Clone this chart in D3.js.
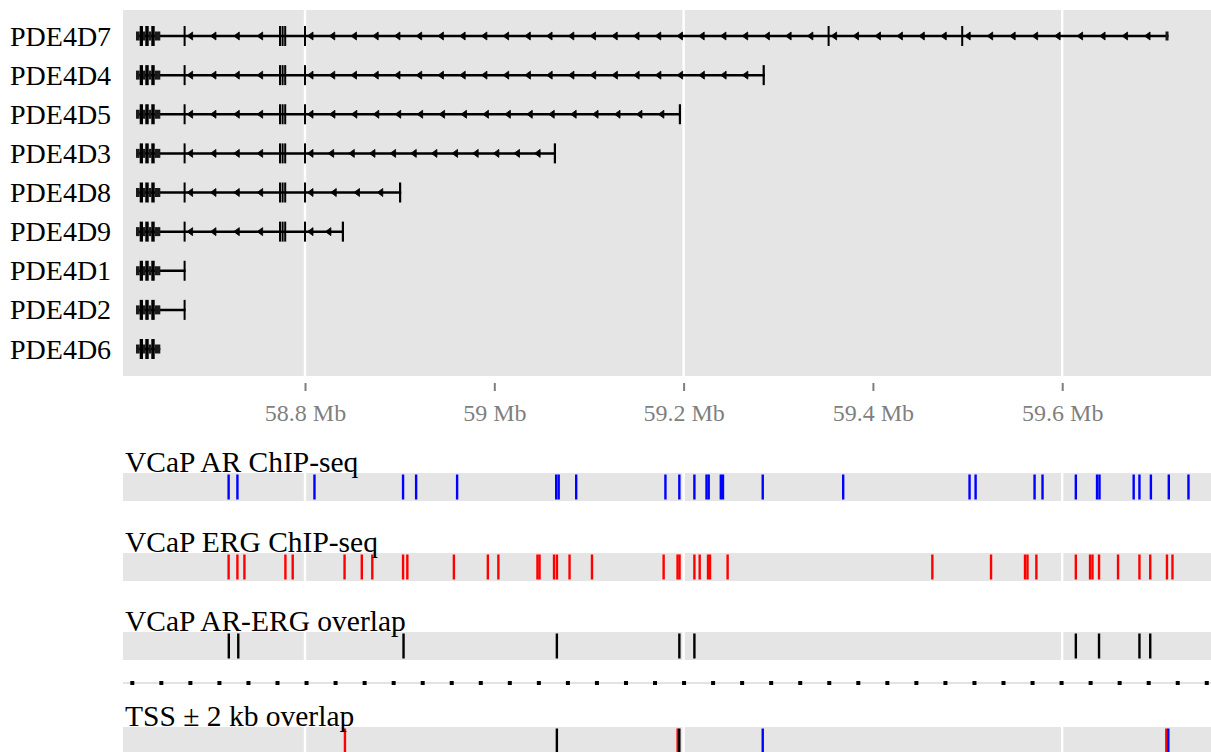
<!DOCTYPE html>
<html>
<head>
<meta charset="utf-8">
<script src="https://cdn.jsdelivr.net/npm/d3@7"></script>
<style>
  body { margin: 0; background: #ffffff; }
  svg { display: block; }
  text { font-family: "Liberation Serif", "DejaVu Serif", serif; }
</style>
</head>
<body>
<svg id="chart" width="1211" height="752"></svg>
<script>
// ---- PDE4D transcript models (positions in Mb, chr5, minus strand) ----
const transcripts = ["PDE4D7", "PDE4D4", "PDE4D5", "PDE4D3", "PDE4D8", "PDE4D9", "PDE4D1", "PDE4D2", "PDE4D6"];

// 3' exons shared by every isoform
const commonExons = [
  [58.62145, 58.62536, "utr"], [58.62536, 58.62884, "cds"], [58.62884, 58.63127, "utr"],
  [58.63127, 58.63487, "cds"], [58.63487, 58.63761, "utr"], [58.63761, 58.64120, "cds"],
  [58.64120, 58.64712, "utr"]
];
const exonUCR = [[58.67174, 58.67385, "cds"]];
const exonBlock = [
  [58.77253, 58.77380, "cds"], [58.77528, 58.77655, "cds"], [58.77802, 58.77929, "cds"],
  [58.79894, 58.80106, "cds"]
];
// isoform-specific 5' exons
const firstExonsPDE4D7 = [[59.35214, 59.35425, "cds"], [59.49329, 59.49540, "cds"], [59.70914, 59.71231, "utr"]];
const firstExonsPDE4D4 = [[59.28347, 59.28579, "cds"]];
const firstExonsPDE4D5 = [[59.19493, 59.19725, "cds"]];
const firstExonsPDE4D3 = [[59.06286, 59.06519, "cds"]];
const firstExonsPDE4D8 = [[58.89931, 58.90164, "cds"]];
const firstExonsPDE4D9 = [[58.83888, 58.84120, "cds"]];

// ---- peak tracks (peak centres in Mb) ----
const arPeaks = [58.7193, 58.7286, 58.8100, 58.9036, 58.9174, 58.9607, 59.0654, 59.0680, 59.0865,
  59.1808, 59.1955, 59.2114, 59.2242, 59.2265, 59.2393, 59.2416, 59.2836, 59.3686, 59.5021,
  59.5085, 59.5708, 59.5792, 59.6144, 59.6368, 59.6394, 59.6755, 59.6816, 59.6937, 59.7126, 59.7334];
const ergPeaks = [58.7193, 58.7286, 58.7360, 58.7793, 58.7870, 58.8418, 58.8600, 58.8711, 58.9036,
  58.9081, 58.9573, 58.9932, 59.0043, 59.0456, 59.0478, 59.0631, 59.0662, 59.0795, 59.1032,
  59.1789, 59.1936, 59.1957, 59.2114, 59.2170, 59.2258, 59.2279, 59.2465, 59.4628, 59.5248,
  59.5607, 59.5633, 59.5727, 59.6144, 59.6294, 59.6320, 59.6389, 59.6590, 59.6816, 59.6930,
  59.7107, 59.7165];
const overlapPeaks = [58.7195, 58.7295, 58.9041, 59.0661, 59.1955, 59.2114, 59.6144, 59.6389, 59.6816, 59.6930];
const tssErg = [58.8422, 59.1937, 59.7100];
const tssOverlap = [59.0661, 59.1955];
const tssAr = [59.2836, 59.7121];

const trackTitles = ["VCaP AR ChIP-seq", "VCaP ERG ChIP-seq", "VCaP AR-ERG overlap", "TSS \u00b1 2 kb overlap"];
const axisTicks = [58.8, 59.0, 59.2, 59.4, 59.6];
const gridBreaks = [58.8, 59.2, 59.6];

const exonsByTranscript = new Map([
  ["PDE4D7", commonExons.concat(exonUCR, exonBlock, firstExonsPDE4D7)],
  ["PDE4D4", commonExons.concat(exonUCR, exonBlock, firstExonsPDE4D4)],
  ["PDE4D5", commonExons.concat(exonUCR, exonBlock, firstExonsPDE4D5)],
  ["PDE4D3", commonExons.concat(exonUCR, exonBlock, firstExonsPDE4D3)],
  ["PDE4D8", commonExons.concat(exonUCR, exonBlock, firstExonsPDE4D8)],
  ["PDE4D9", commonExons.concat(exonUCR, exonBlock, firstExonsPDE4D9)],
  ["PDE4D1", commonExons.concat(exonUCR)],
  ["PDE4D2", commonExons.concat(exonUCR)],
  ["PDE4D6", commonExons]
]);

// ---- layout ----
const panelLeft = 123, panelRight = 1211;
const geneTop = 10, geneBottom = 376;
const BG = "#e5e5e5";

const svg = d3.select("#chart");
const x = d3.scaleLinear().domain([58.60771, 59.75720]).range([panelLeft, panelRight]);
const y = d3.scalePoint().domain(transcripts).range([36, 349]);

// gene panel background + grid
svg.append("rect").attr("x", panelLeft).attr("y", geneTop)
  .attr("width", panelRight - panelLeft).attr("height", geneBottom - geneTop).attr("fill", BG);
svg.append("g").selectAll("line").data(gridBreaks).join("line")
  .attr("x1", d => x(d)).attr("x2", d => x(d))
  .attr("y1", geneTop).attr("y2", geneBottom)
  .attr("stroke", "#ffffff").attr("stroke-width", 2.4);

svg.append("clipPath").attr("id", "geneClip").append("rect")
  .attr("x", panelLeft).attr("y", geneTop)
  .attr("width", panelRight - panelLeft).attr("height", geneBottom - geneTop);

const genes = svg.append("g").attr("clip-path", "url(#geneClip)");
const exonH = { cds: 20, utr: 9 };

transcripts.forEach(name => {
  const cy = y(name);
  const exons = exonsByTranscript.get(name).slice().sort((a, b) => a[0] - b[0]);
  const g = genes.append("g");
  const x0 = x(d3.min(exons, d => d[0])), x1 = x(d3.max(exons, d => d[1]));
  g.append("line").attr("x1", x0).attr("x2", x1).attr("y1", cy).attr("y2", cy)
    .attr("stroke", "#000").attr("stroke-width", 2.5);

  // strand arrowheads along each intron (minus strand, pointing left)
  const arrows = [];
  for (let i = 0; i < exons.length - 1; i++) {
    const a = x(exons[i][1]), b = x(exons[i + 1][0]);
    const len = b - a;
    if (len < 24) continue;
    const n = Math.round(len / 21.5);
    for (let k = 0; k < n; k++) arrows.push(a + 1.5 + k * len / n);
  }
  g.selectAll("path.chev").data(arrows).join("path").attr("class", "chev")
    .attr("d", d => `M${d + 5.5},${cy - 4}L${d},${cy}L${d + 5.5},${cy + 4}Z`)
    .attr("fill", "#000").attr("stroke", "#000").attr("stroke-width", 0.8)
    .attr("stroke-linejoin", "round");

  g.selectAll("rect.exon").data(exons).join("rect").attr("class", "exon")
    .attr("x", d => x(d[0]))
    .attr("width", d => Math.max(2, x(d[1]) - x(d[0])))
    .attr("y", d => cy - exonH[d[2]] / 2)
    .attr("height", d => exonH[d[2]])
    .attr("fill", d => d[2] === "utr" ? "#1a1a1a" : "#000");
});

// transcript labels
svg.append("g").selectAll("text").data(transcripts).join("text")
  .attr("x", 10).attr("y", d => y(d) + 9.5)
  .attr("font-size", 28).attr("fill", "#000").text(d => d);

// genomic axis
const axis = d3.axisBottom(x).tickValues(axisTicks)
  .tickFormat(d => d3.format("~g")(d) + " Mb").tickSize(8).tickPadding(13);
const ax = svg.append("g").attr("transform", "translate(0,383)").call(axis);
ax.select(".domain").remove();
ax.selectAll(".tick line").attr("stroke", "#7f7f7f").attr("stroke-width", 2);
ax.selectAll(".tick text").attr("fill", "#7f7f7f").attr("font-size", 24)
  .attr("font-family", "Liberation Serif, DejaVu Serif, serif");

// ---- peak tracks ----
const tracks = [
  { title: trackTitles[0], top: 473, series: [{ pos: arPeaks, color: "#0000ff" }] },
  { title: trackTitles[1], top: 553, series: [{ pos: ergPeaks, color: "#ff0000" }] },
  { title: trackTitles[2], top: 632, series: [{ pos: overlapPeaks, color: "#000000" }] },
  { title: trackTitles[3], top: 727, series: [
      { pos: tssErg, color: "#ff0000" }, { pos: tssOverlap, color: "#000000" }, { pos: tssAr, color: "#0000ff" }] }
];
const bandH = 28;

tracks.forEach(t => {
  const g = svg.append("g");
  g.append("rect").attr("x", panelLeft).attr("y", t.top)
    .attr("width", panelRight - panelLeft).attr("height", bandH).attr("fill", BG);
  g.selectAll("line.grid").data(gridBreaks).join("line").attr("class", "grid")
    .attr("x1", d => x(d)).attr("x2", d => x(d))
    .attr("y1", t.top).attr("y2", t.top + bandH)
    .attr("stroke", "#ffffff").attr("stroke-width", 2.4);
  t.series.forEach(s => {
    g.append("g").selectAll("line").data(s.pos).join("line")
      .attr("x1", d => x(d)).attr("x2", d => x(d))
      .attr("y1", t.top + 1.5).attr("y2", t.top + bandH - 1.5)
      .attr("stroke", s.color).attr("stroke-width", 2.4);
  });
  g.append("text").attr("x", 125).attr("y", t.top - 1)
    .attr("font-size", 29.5).attr("fill", "#000").text(t.title);
});

// dotted separator between the peak tracks and the TSS track
svg.append("line").attr("x1", panelLeft).attr("x2", panelRight).attr("y1", 683).attr("y2", 683)
  .attr("stroke", "#e3e3e3").attr("stroke-width", 2);
svg.append("line").attr("x1", 130.3).attr("x2", panelRight).attr("y1", 683).attr("y2", 683)
  .attr("stroke", "#000").attr("stroke-width", 4).attr("stroke-dasharray", "4 25.04");
</script>
</body>
</html>
